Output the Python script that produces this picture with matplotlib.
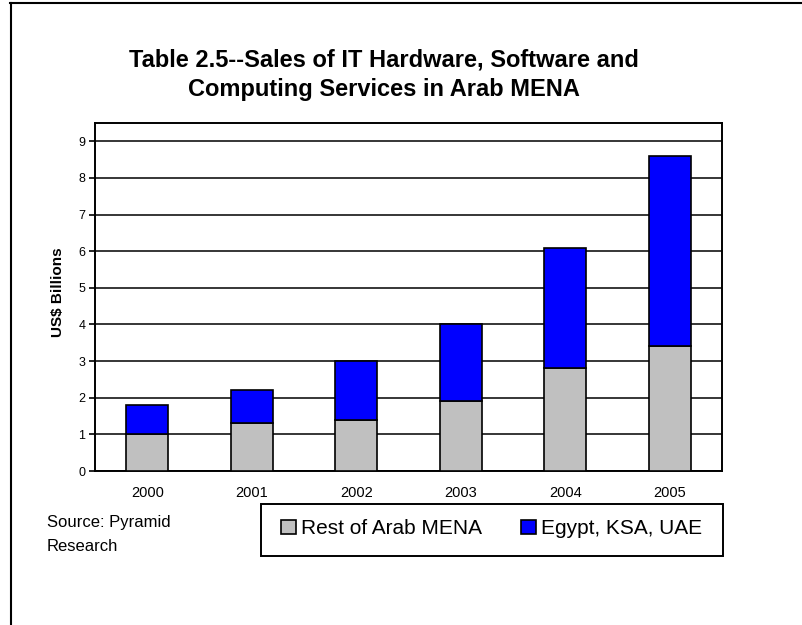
import matplotlib
matplotlib.use("Agg")
import matplotlib.pyplot as plt
import numpy as np
from matplotlib.lines import Line2D
from matplotlib.patches import Rectangle

plt.rcParams['font.family'] = ['Liberation Sans', 'DejaVu Sans']

years = ["2000", "2001", "2002", "2003", "2004", "2005"]
rest_of_mena = [1.0, 1.3, 1.4, 1.9, 2.8, 3.4]
egypt_ksa_uae = [0.8, 0.9, 1.6, 2.1, 3.3, 5.2]

W, H = 802, 625
fig = plt.figure(figsize=(W / 100, H / 100), dpi=100)

# plot area in pixel units, converted to figure fractions
left, right, top, bottom = 95, 722, 123, 471
ax = fig.add_axes([left / W, 1 - bottom / H, (right - left) / W, (bottom - top) / H])

x = np.arange(len(years))
ax.bar(x, rest_of_mena, width=0.4, color="#C0C0C0", edgecolor="black", linewidth=1.2,
       label="Rest of Arab MENA", zorder=3)
ax.bar(x, egypt_ksa_uae, width=0.4, bottom=rest_of_mena, color="#0000FF",
       edgecolor="black", linewidth=1.2, label="Egypt, KSA, UAE", zorder=3)

ax.set_xlim(-0.5, len(years) - 0.5)
ax.set_ylim(0, 9.5)
ax.set_yticks(range(10))
ax.set_xticks(x)
ax.set_xticklabels(years)
ax.yaxis.grid(True, color="black", linewidth=1.1, zorder=0)
ax.set_axisbelow(True)
for s in ax.spines.values():
    s.set_linewidth(1.4)
ax.tick_params(axis="y", length=4, width=1.2, pad=3, labelsize=9)
ax.tick_params(axis="x", length=0, pad=11, labelsize=10.5)

# title, axis label and source note
fig.text(383.5 / W, 1 - 67 / H, "Table 2.5--Sales of IT Hardware, Software and",
         ha="center", va="baseline", fontsize=17, fontweight="bold")
fig.text(383.5 / W, 1 - 96 / H, "Computing Services in Arab MENA",
         ha="center", va="baseline", fontsize=17, fontweight="bold")
fig.text(58 / W, 1 - 292 / H, "US$ Billions", rotation=90, ha="center", va="center",
         fontsize=11, fontweight="bold")
fig.text(47 / W, 1 - 527 / H, "Source: Pyramid", ha="left", va="baseline", fontsize=12)
fig.text(47 / W, 1 - 551 / H, "Research", ha="left", va="baseline", fontsize=12)

# legend with a hand-drawn box around it
fig.patches.append(Rectangle((261 / W, 1 - 556 / H), (723 - 261) / W, (556 - 504) / H,
                             transform=fig.transFigure, fill=False,
                             edgecolor="black", linewidth=1.4))
handles, labels = ax.get_legend_handles_labels()
fig.legend(handles, labels, loc="center left", bbox_to_anchor=(281 / W, 1 - 529 / H),
           ncol=2, frameon=False, fontsize=15, borderpad=0, borderaxespad=0,
           handlelength=0.71, handleheight=0.67, handletextpad=0.24, columnspacing=1.9)

# outer chart frame
fig.lines.append(Line2D([10.5 / W, 10.5 / W], [0, 1 - 3 / H], transform=fig.transFigure,
                        color="black", linewidth=1.5))
fig.lines.append(Line2D([10 / W, 1], [1 - 3 / H, 1 - 3 / H], transform=fig.transFigure,
                        color="black", linewidth=1.5))

fig.savefig("out.png", dpi=100)
